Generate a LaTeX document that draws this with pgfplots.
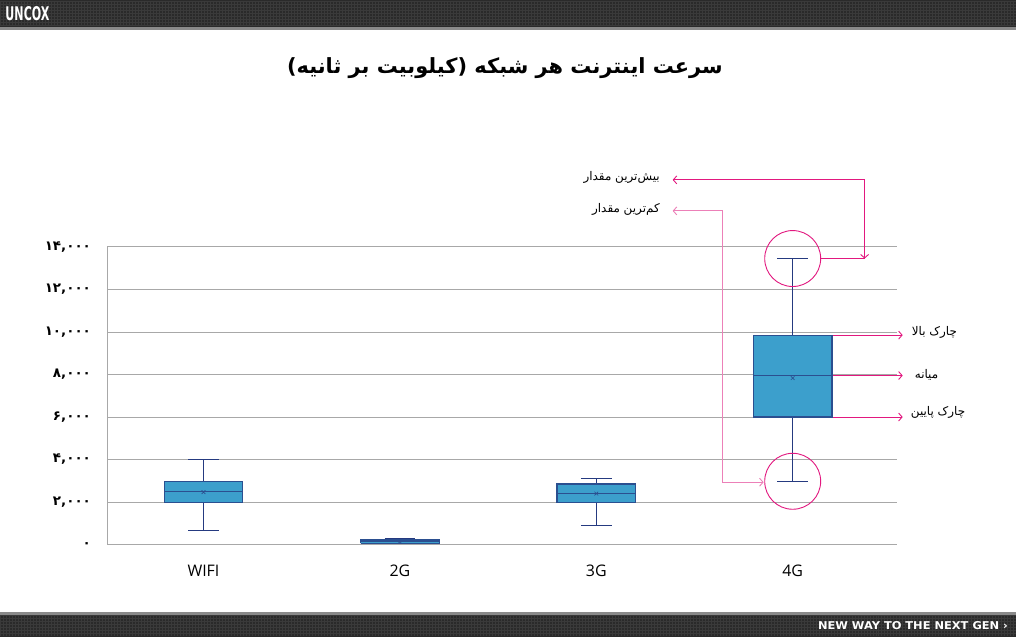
\documentclass[border=0pt]{standalone}
\usepackage{fontspec}
\usepackage{pgfplots}
\pgfplotsset{compat=1.18}
\usetikzlibrary{arrows.meta}
\TeXXeTstate=1
\setmainfont{Open Sans}
\newfontfamily\arabicfont[Script=Arabic]{DejaVu Sans}
\newfontfamily\digitfont{DejaVu Sans}
\definecolor{boxfill}{HTML}{3C9FCC}
\definecolor{boxedge}{HTML}{2B4F90}
\definecolor{whisk}{HTML}{253A80}
\definecolor{gridc}{HTML}{A8A8A8}
\definecolor{mag}{HTML}{E2187F}
\definecolor{pinkc}{HTML}{EC80B8}
\definecolor{hdr}{HTML}{2A2A2A}
\definecolor{hdrl}{HTML}{3A3A3A}
\definecolor{strip}{HTML}{8A8A8A}
\tikzset{
  whiskst/.style={draw=whisk, line width=1.1pt},
  boxst/.style={draw=boxedge, fill=boxfill, line width=1.1pt},
  medst/.style={draw=boxedge, line width=1.1pt},
  barb/.style={line width=0.9pt},
}
\begin{document}
\begin{tikzpicture}
\begin{scope}[x=1bp,y=1bp]
\fill[white] (0,0) rectangle (1016,637);
% header
\fill[hdr] (0,610.3) rectangle (1016,637);
\draw[hdrl, line width=0.6bp, step=3bp] (0,611) grid (1016,636);
\fill[strip] (0,607) rectangle (1016,610.3);
\node[anchor=south west, inner sep=0, text=white] at (5,616) {\resizebox{44bp}{14bp}{\digitfont\bfseries UNCOX}};
% footer
\fill[hdr] (0,0) rectangle (1016,22);
\draw[hdrl, line width=0.6bp, step=3bp] (0,1) grid (1016,21);
\fill[strip] (0,22) rectangle (1016,25);
\node[anchor=south west, inner sep=0, text=white] at (818,7) {\resizebox{190bp}{8bp}{\digitfont\bfseries NEW WAY TO THE NEXT GEN ›}};
% title
\node[font=\arabicfont\bfseries\fontsize{21}{25}\selectfont, inner sep=0] at (505,569) {\beginR سرعت اینترنت هر شبکه (کیلوبیت بر ثانیه)\endR};
\end{scope}
\begin{axis}[
  at={(107bp,92bp)}, anchor=south west,
  scale only axis, width=790bp, height=298bp,
  xmin=-0.49, xmax=3.53, ymin=0, ymax=14000,
  scaled y ticks=false,
  axis x line=bottom, axis y line=left,
  axis line style={-, draw=gridc, line width=0.8bp},
  tick style={draw=none},
  ymajorgrids, grid style={draw=gridc, line width=0.8bp},
  ytick={0,2000,4000,6000,8000,10000,12000,14000},
  yticklabels={{۰},{۲,۰۰۰},{۴,۰۰۰},{۶,۰۰۰},{۸,۰۰۰},{۱۰,۰۰۰},{۱۲,۰۰۰},{۱۴,۰۰۰}},
  yticklabel style={font=\digitfont\bfseries\fontsize{13.5}{15}\selectfont, inner sep=0pt, anchor=east, xshift=-14bp},
  xtick={0,1,2,3},
  xticklabels={WIFI,2G,3G,4G},
  xticklabel style={font=\fontsize{16}{18}\selectfont, inner sep=0pt, anchor=north, yshift=-18bp},
  clip=false,
]
% WIFI: min 680, q1 2000, median 2480, q3 2960, max 4020
\addplot[whiskst] coordinates {(0,2960) (0,4020)};
\addplot[whiskst] coordinates {(-0.078,4020) (0.078,4020)};
\addplot[whiskst] coordinates {(0,2000) (0,680)};
\addplot[whiskst] coordinates {(-0.078,680) (0.078,680)};
\addplot[boxst] coordinates {(-0.2,2000) (0.2,2000) (0.2,2960) (-0.2,2960) (-0.2,2000)};
\addplot[medst] coordinates {(-0.2,2480) (0.2,2480)};
% 2G: min 50, q1 60, median 140, q3 220, max 270
\addplot[whiskst] coordinates {(1,220) (1,270)};
\addplot[whiskst] coordinates {(0.922,270) (1.078,270)};
\addplot[whiskst] coordinates {(0.922,50) (1.078,50)};
\addplot[boxst] coordinates {(0.8,60) (1.2,60) (1.2,220) (0.8,220) (0.8,60)};
\addplot[medst] coordinates {(0.8,140) (1.2,140)};
% 3G: min 880, q1 1980, median 2410, q3 2850, max 3110
\addplot[whiskst] coordinates {(2,2850) (2,3110)};
\addplot[whiskst] coordinates {(1.922,3110) (2.078,3110)};
\addplot[whiskst] coordinates {(2,1980) (2,880)};
\addplot[whiskst] coordinates {(1.922,880) (2.078,880)};
\addplot[boxst] coordinates {(1.8,1980) (2.2,1980) (2.2,2850) (1.8,2850) (1.8,1980)};
\addplot[medst] coordinates {(1.8,2410) (2.2,2410)};
% 4G: min 2980, q1 6000, median 7950, q3 9850, max 13450
\addplot[whiskst] coordinates {(3,9850) (3,13450)};
\addplot[whiskst] coordinates {(2.922,13450) (3.078,13450)};
\addplot[whiskst] coordinates {(3,6000) (3,2980)};
\addplot[whiskst] coordinates {(2.922,2980) (3.078,2980)};
\addplot[boxst] coordinates {(2.8,6000) (3.2,6000) (3.2,9850) (2.8,9850) (2.8,6000)};
\addplot[medst] coordinates {(2.8,7950) (3.2,7950)};
% means
\addplot[only marks, mark=x, mark size=2.6pt, draw=boxedge, line width=0.6pt] coordinates {(0,2470) (1,140) (2,2400) (3,7830)};
% annotations
\node[draw=mag, line width=0.9pt, circle, minimum size=56bp, inner sep=0pt] at (axis cs:3,13450) {};
\node[draw=mag, line width=0.9pt, circle, minimum size=56bp, inner sep=0pt] at (axis cs:3,2980) {};
\draw[mag, barb] (axis cs:3.1425,13450) -- (axis cs:3.366,13450);
\draw[mag, barb, {Straight Barb[length=3.5pt,width=8pt]}-{Straight Barb[length=3.5pt,width=8pt]}] (axis cs:2.389,17148) -- (axis cs:3.366,17148) -- (axis cs:3.366,13450);
\draw[pinkc, barb, {Straight Barb[length=3.5pt,width=8pt]}-{Straight Barb[length=3.5pt,width=8pt]}] (axis cs:2.389,15691) -- (axis cs:2.644,15691) -- (axis cs:2.644,2936) -- (axis cs:2.852,2936);
\draw[mag, barb, -{Straight Barb[length=3.5pt,width=8pt]}] (axis cs:3.203,9850) -- (axis cs:3.56,9850);
\draw[mag, barb, -{Straight Barb[length=3.5pt,width=8pt]}] (axis cs:3.203,7950) -- (axis cs:3.56,7950);
\draw[mag, barb, -{Straight Barb[length=3.5pt,width=8pt]}] (axis cs:3.203,6000) -- (axis cs:3.56,6000);
\node[anchor=east, inner sep=0, font=\arabicfont\fontsize{12}{14}\selectfont] at (axis cs:2.324,17242) {\beginR بیش‌ترین مقدار\endR};
\node[anchor=east, inner sep=0, font=\arabicfont\fontsize{12}{14}\selectfont] at (axis cs:2.324,15738) {\beginR کم‌ترین مقدار\endR};
\node[anchor=west, inner sep=0, font=\arabicfont\fontsize{12}{14}\selectfont] at (axis cs:3.606,9960) {\beginR چارک بالا\endR};
\node[anchor=west, inner sep=0, font=\arabicfont\fontsize{12}{14}\selectfont] at (axis cs:3.621,7987) {\beginR میانه\endR};
\node[anchor=west, inner sep=0, font=\arabicfont\fontsize{12}{14}\selectfont] at (axis cs:3.601,6201) {\beginR چارک پایین\endR};
\end{axis}
\end{tikzpicture}
\end{document}
